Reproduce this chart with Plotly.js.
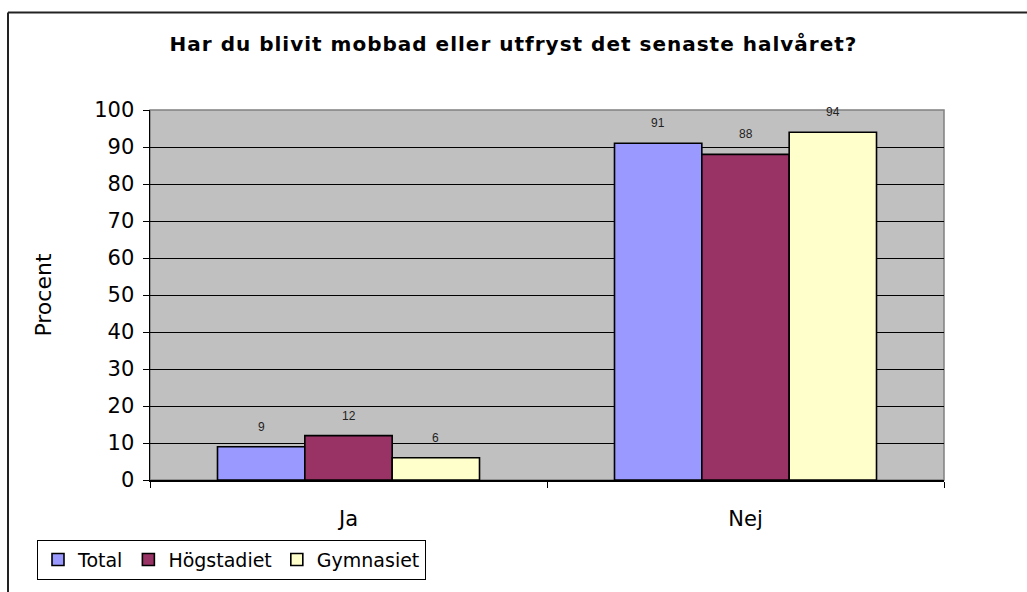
<!DOCTYPE html>
<html>
<head>
<meta charset="utf-8">
<script src="https://cdn.plot.ly/plotly-3.0.1.min.js"></script>
<style>
  html, body { margin: 0; padding: 0; background: #fff; }
  #chart { width: 1027px; height: 592px; }
  #chart .gtitle { letter-spacing: 1px; }
</style>
</head>
<body>
<div id="chart"></div>
<script>
'use strict';

// survey answers, percent
const categories = ['Ja', 'Nej'];
const seriesNames = ['Total', 'Högstadiet', 'Gymnasiet'];
const total = [9, 91];
const hogstadiet = [12, 88];
const gymnasiet = [6, 94];
const seriesColors = ['#9999FF', '#993366', '#FFFFCC'];

const values = [total, hogstadiet, gymnasiet];
const bargap = 0.34;
const barWidth = (1 - bargap) / seriesNames.length;

const data = seriesNames.map((name, j) => ({
  type: 'bar',
  name: name,
  x: categories,
  y: values[j],
  marker: {
    color: seriesColors[j],
    line: { color: '#000', width: 1.6 }
  },
  hoverinfo: 'none'
}));

// value labels above each bar
const annotations = [];
values.forEach((vals, j) => {
  vals.forEach((v, i) => {
    annotations.push({
      x: i + (j - 1) * barWidth,
      y: v,
      xref: 'x',
      yref: 'y',
      text: String(v),
      showarrow: false,
      yshift: 20,
      yanchor: 'middle',
      font: { family: 'Liberation Sans, Arial, sans-serif', size: 12, color: '#222' }
    });
  });
});

// plot area in px: l=150, r=944, t=110, b=482
const plotW = 794, plotH = 372;
const frameX = (8 - 150) / plotW;
const frameY = (482 - 12) / plotH;

const shapes = [
  {
    type: 'rect', xref: 'paper', yref: 'paper',
    x0: 0, x1: 1, y0: 0, y1: 1,
    line: { color: '#808080', width: 1.5 },
    layer: 'below'
  },
  {
    type: 'line', xref: 'paper', yref: 'paper',
    x0: frameX, x1: frameX, y0: -0.5, y1: frameY,
    line: { color: '#222', width: 2 }
  },
  {
    type: 'line', xref: 'paper', yref: 'paper',
    x0: frameX, x1: 1.2, y0: frameY, y1: frameY,
    line: { color: '#222', width: 2 }
  }
];

const layout = {
  width: 1027,
  height: 592,
  margin: { l: 150, r: 83, t: 110, b: 108 },
  paper_bgcolor: '#fff',
  plot_bgcolor: '#C0C0C0',
  font: { family: 'DejaVu Sans, Verdana, sans-serif', color: '#000' },
  title: {
    text: '<b>Har du blivit mobbad eller utfryst det senaste halvåret?</b>',
    font: { family: 'DejaVu Sans, Verdana, sans-serif', size: 20, color: '#000' },
    x: 0.5,
    xanchor: 'center',
    y: 1 - 44 / 592,
    yanchor: 'middle',
    yref: 'container'
  },
  barmode: 'group',
  bargap: bargap,
  bargroupgap: 0,
  showlegend: true,
  legend: {
    orientation: 'h',
    x: (37 - 150) / plotW,
    xanchor: 'left',
    y: (482 - 542) / plotH,
    yanchor: 'top',
    bordercolor: '#000',
    borderwidth: 1,
    bgcolor: '#fff',
    font: { size: 19, color: '#000' },
    itemwidth: 30,
    tracegroupgap: 0
  },
  xaxis: {
    type: 'category',
    tickson: 'boundaries',
    ticks: 'outside',
    ticklen: 6,
    tickcolor: '#000',
    showline: true,
    linecolor: '#000',
    linewidth: 1.5,
    showgrid: false,
    tickfont: { size: 21 },
    ticklabelstandoff: 19,
    fixedrange: true
  },
  yaxis: {
    range: [0, 100],
    dtick: 10,
    ticks: 'outside',
    ticklen: 6,
    tickcolor: '#000',
    showline: true,
    linecolor: '#000',
    linewidth: 1.5,
    showgrid: true,
    gridcolor: '#000',
    gridwidth: 1,
    zeroline: false,
    tickfont: { size: 21 },
    ticklabelstandoff: 4,
    title: {
      text: 'Procent',
      font: { size: 22 },
      standoff: 36
    },
    fixedrange: true
  },
  annotations: annotations,
  shapes: shapes
};

Plotly.newPlot('chart', data, layout, { displayModeBar: false, staticPlot: true });
</script>
</body>
</html>
